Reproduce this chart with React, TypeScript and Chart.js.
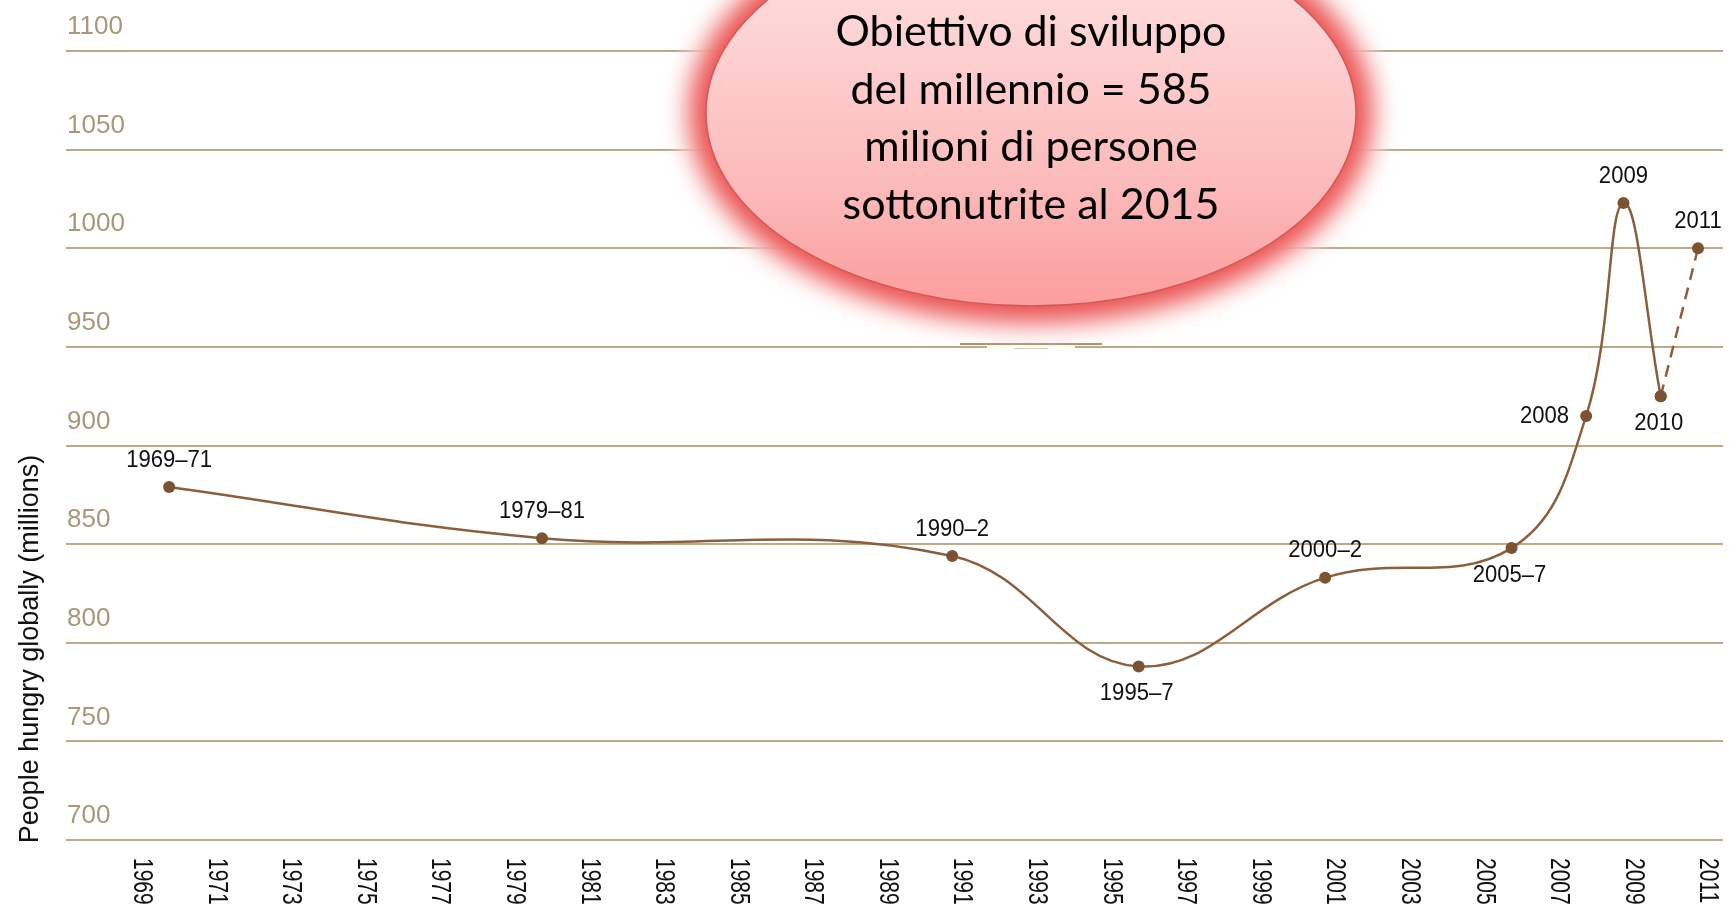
import React, { useEffect, useRef } from 'react';
import { Chart, registerables } from 'chart.js';

Chart.register(...registerables);

// ---------- DATA ----------
const periodYears = [1970, 1980, 1991, 1996, 2001, 2006, 2008, 2009, 2010];
const hungryMillions = [879, 853, 844, 788, 833, 848, 915, 1023, 925];
const periodLabels = ['1969–71', '1979–81', '1990–2', '1995–7', '2000–2', '2005–7', '2008', '2009', '2010'];

const projectionYears = [2010, 2011];
const projectionMillions = [925, 1000];
const projectionLabels = ['', '2011'];

const tickYears = [1969, 1971, 1973, 1975, 1977, 1979, 1981, 1983, 1985, 1987, 1989, 1991, 1993, 1995, 1997, 1999, 2001, 2003, 2005, 2007, 2009, 2011];
const tickLabels = ['1969', '1971', '1973', '1975', '1977', '1979', '1981', '1983', '1985', '1987', '1989', '1991', '1993', '1995', '1997', '1999', '2001', '2003', '2005', '2007', '2009', '2011'];

const yMin = 700;
const yMax = 1100;
const yStep = 50;
const yTitle = 'People hungry globally (millions)';

const calloutLines = ['Obiettivo di sviluppo', 'del millennio = 585', 'milioni di persone', 'sottonutrite al 2015'];

// ---------- STYLE ----------
const W = 1729;
const H = 907;
const GRID = 'rgb(186,170,136)';
const YTICK = '#a8987a';
const LINE = '#8a5f3e';
const POINT = '#7b5232';
const labelPlacement: Record<string, string> = {
  '1969–71': 'above', '1979–81': 'above', '1990–2': 'above', '1995–7': 'below',
  '2000–2': 'above', '2005–7': 'below', '2008': 'left', '2009': 'above', '2010': 'below', '2011': 'above',
};

const overlayPlugin = {
  id: 'overlay',
  afterDatasetsDraw(chart: any) {
    const ctx = chart.ctx as CanvasRenderingContext2D;
    const xs = chart.scales.x;

    // x tick labels, rotated clockwise
    ctx.save();
    ctx.fillStyle = '#111';
    ctx.font = '28px "Liberation Sans", Arial, sans-serif';
    ctx.textAlign = 'left';
    ctx.textBaseline = 'middle';
    tickYears.forEach((yr, i) => {
      const px = xs.getPixelForValue(yr) + 10;
      ctx.save();
      ctx.translate(px, 858);
      ctx.rotate(Math.PI / 2);
      ctx.scale(0.75, 1);
      ctx.fillText(tickLabels[i], 0, 0);
      ctx.restore();
    });
    ctx.restore();

    // y title
    ctx.save();
    ctx.fillStyle = '#111';
    ctx.font = '27px "Liberation Sans", Arial, sans-serif';
    ctx.textAlign = 'center';
    ctx.textBaseline = 'middle';
    ctx.translate(31, 649);
    ctx.rotate(-Math.PI / 2);
    ctx.fillText(yTitle, 0, 0);
    ctx.restore();

    // point labels
    const drawLabel = (text: string, el: any) => {
      if (!text) return;
      const place = labelPlacement[text] || 'above';
      let x = el.x;
      let y = el.y;
      let align: CanvasTextAlign = 'center';
      if (place === 'above') y -= 27;
      else if (place === 'below') { y += 27; x -= 2; }
      else { x -= 17; align = 'right'; }
      ctx.save();
      ctx.fillStyle = '#111';
      ctx.font = '24px "Liberation Sans", Arial, sans-serif';
      ctx.textAlign = align;
      ctx.textBaseline = 'middle';
      ctx.translate(x, y);
      ctx.scale(0.92, 1);
      ctx.fillText(text, 0, 0);
      ctx.restore();
    };
    const m0 = chart.getDatasetMeta(0);
    m0.data.forEach((el: any, i: number) => drawLabel(periodLabels[i], el));
    const m1 = chart.getDatasetMeta(1);
    m1.data.forEach((el: any, i: number) => drawLabel(projectionLabels[i], el));
  },
  afterDraw(chart: any) {
    const ctx = chart.ctx as CanvasRenderingContext2D;
    const cx = 1031, cy = 113, rx = 325, ry = 193;

    // artifact of the pasted callout on the 950 grid line
    ctx.save();
    ctx.fillStyle = '#ffffff';
    ctx.fillRect(987, 343, 88, 7);
    ctx.strokeStyle = 'rgb(165,140,95)';
    ctx.lineWidth = 2;
    ctx.beginPath();
    ctx.moveTo(960, 344);
    ctx.lineTo(1102, 344);
    ctx.stroke();
    ctx.strokeStyle = 'rgb(215,205,180)';
    ctx.lineWidth = 1;
    ctx.beginPath();
    ctx.moveTo(1014, 348.5);
    ctx.lineTo(1048, 348.5);
    ctx.stroke();
    ctx.restore();

    // glow
    ctx.save();
    ctx.filter = 'blur(9px)';
    ctx.fillStyle = 'rgba(255,255,255,0.85)';
    ctx.beginPath();
    ctx.ellipse(cx, cy, rx + 30, ry + 30, 0, 0, Math.PI * 2);
    ctx.fill();
    ctx.filter = 'blur(13px)';
    ctx.fillStyle = 'rgba(236,80,80,1)';
    ctx.beginPath();
    ctx.ellipse(cx, cy, rx + 17, ry + 17, 0, 0, Math.PI * 2);
    ctx.fill();
    ctx.restore();

    // body
    ctx.save();
    const g = ctx.createLinearGradient(0, cy - ry, 0, cy + ry);
    g.addColorStop(0, '#fee8e8');
    g.addColorStop(0.21, '#fdd8d8');
    g.addColorStop(0.7, '#fcb9b9');
    g.addColorStop(1, '#fb9d9d');
    ctx.fillStyle = g;
    ctx.beginPath();
    ctx.ellipse(cx, cy, rx, ry, 0, 0, Math.PI * 2);
    ctx.fill();
    ctx.strokeStyle = '#d25858';
    ctx.lineWidth = 1.5;
    ctx.stroke();
    ctx.restore();

    // text
    ctx.save();
    ctx.fillStyle = '#000';
    ctx.font = '43px Lato, "Open Sans", sans-serif';
    ctx.textAlign = 'center';
    ctx.textBaseline = 'alphabetic';
    calloutLines.forEach((t, i) => {
      ctx.fillText(t, cx, 46 + i * 57.5);
    });
    ctx.restore();
  },
};

export default function App() {
  const ref = useRef<HTMLCanvasElement>(null);
  useEffect(() => {
    if (!ref.current) return;
    const chart = new Chart(ref.current, {
      type: 'line',
      data: {
        datasets: [
          {
            data: periodYears.map((x, i) => ({ x, y: hungryMillions[i] })),
            borderColor: LINE,
            borderWidth: 2.5,
            tension: 0.4,
            pointRadius: 6,
            pointBackgroundColor: POINT,
            pointBorderWidth: 0,
            fill: false,
          },
          {
            data: projectionYears.map((x, i) => ({ x, y: projectionMillions[i] })),
            borderColor: LINE,
            borderWidth: 2.5,
            borderDash: [12, 8],
            tension: 0,
            pointRadius: 6,
            pointBackgroundColor: POINT,
            pointBorderWidth: 0,
            fill: false,
          },
        ],
      },
      options: {
        animation: false,
        responsive: false,
        maintainAspectRatio: false,
        layout: { padding: { left: 64, top: 51, right: 0, bottom: 67 } },
        plugins: { legend: { display: false }, tooltip: { enabled: false } },
        scales: {
          x: { type: 'linear', min: 1967.235, max: 2011.67, display: false },
          y: {
            min: yMin,
            max: yMax,
            position: 'left',
            border: { display: false },
            grid: { color: GRID, lineWidth: 2, drawTicks: false },
            ticks: {
              stepSize: yStep,
              mirror: true,
              padding: 1,
              labelOffset: -24,
              color: YTICK,
              font: { family: '"Liberation Sans", Arial, sans-serif', size: 26 },
              callback: (v: any) => String(v),
            },
          },
        },
      },
      plugins: [overlayPlugin],
    });
    return () => chart.destroy();
  }, []);
  return (
    <div style={{ position: 'absolute', left: 0, top: 0, width: W, height: H, background: '#fff' }}>
      <canvas ref={ref} width={W} height={H} style={{ display: 'block', width: W, height: H }} />
    </div>
  );
}
